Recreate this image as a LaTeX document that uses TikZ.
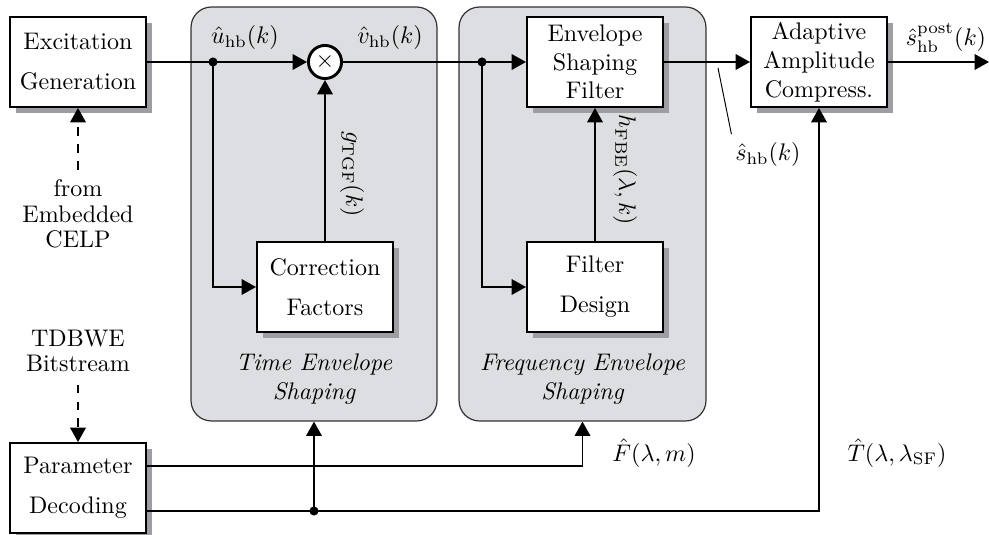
\documentclass[tikz,border=0pt]{standalone}
\usetikzlibrary{arrows.meta,shadows}
\definecolor{groupfill}{RGB}{221,222,225}
\definecolor{shadowgray}{RGB}{158,158,162}
\begin{document}
\begin{tikzpicture}[x=0.4167pt,y=-0.4167pt,
  line width=0.7pt,
  arr/.style={-{Triangle[length=6pt,width=6.5pt]}},
  blockbox/.style={draw,line width=0.8pt,fill=white,minimum width=56.7pt,minimum height=37.5pt,inner sep=1pt,align=center,
    drop shadow={shadow xshift=2.4pt,shadow yshift=-2.4pt,fill=shadowgray,opacity=1}},
  groupbox/.style={draw=black!80,line width=0.5pt,fill=groupfill,rounded corners=8.5pt,minimum width=102.5pt,minimum height=172.5pt},
  dot/.style={circle,fill=black,inner sep=0pt,minimum size=3.8pt},
  dasharr/.style={arr,dash pattern=on 3.6pt off 3.4pt},
  sidelbl/.style={align=center,inner sep=0pt,font=\fontsize{10}{10.5}\selectfont}]
\useasboundingbox (0,0) rectangle (989,535);

% groups
\node[groupbox] (tes) at (314,214) {};
\node[groupbox,minimum width=102.9pt] (fes) at (582.5,214) {};
\node[align=center,font=\itshape] (tesl) at (314,379) {Time Envelope\\Shaping};
\node[align=center,font=\itshape] (fesl) at (582.5,379) {Frequency Envelope\\Shaping};

% blocks
\node[blockbox] (exc) at (78,62) {Excitation\\[4.7pt]Generation};
\node[blockbox] (par) at (78,488) {Parameter\\[4.7pt]Decoding};
\node[blockbox] (corr) at (325,287) {Correction\\[4.7pt]Factors};
\node[blockbox] (esf) at (595,62) {Envelope\\Shaping\\Filter};
\node[blockbox] (fd) at (595,287) {Filter\\[4.7pt]Design};
\node[blockbox] (aac) at (819,62) {Adaptive\\Amplitude\\Compress.};
\node[draw,circle,line width=1.2pt,fill=white,minimum size=13.8pt,inner sep=0pt] (mult) at (325,62) {$\times$};

\node[sidelbl] (celp) at (78,214) {from\\Embedded\\CELP};
\node[sidelbl] (tdbwe) at (78,351) {TDBWE\\Bitstream};

% coordinates
\coordinate (d1) at (213,62);
\coordinate (d2) at (482,62);
\coordinate (d3) at (314,511);
\coordinate (out) at (989,62);
\coordinate (lead) at (718,68);

% connectors
\draw[arr] (exc.east) -- (mult.west);
\draw[arr] (d1) |- (corr.west);
\draw[arr] (corr.north) -- (mult.south);
\draw[arr] (mult.east) -- (esf.west);
\draw[arr] (d2) |- (fd.west);
\draw[arr] (fd.north) -- (esf.south);
\draw[arr] (esf.east) -- (aac.west);
\draw[arr] (aac.east) -- (out);
\draw[arr] ([yshift=9.2pt]par.east) -| (fes.south);
\draw ([yshift=-9.6pt]par.east) -- (d3);
\draw[arr] (d3) -| (aac.south);
\draw[arr] (d3) -- (tes.south);
\node[dot] (d1dot) at (d1) {};
\node[dot] (d2dot) at (d2) {};
\node[dot] (d3dot) at (d3) {};

\draw[dasharr,shorten <=4pt] (celp.north) -- (exc.south);
\draw[dasharr,shorten <=5pt] (tdbwe.south) -- (par.north);

% labels
\node (ul) at (245,38) {$\hat{u}_{\mathrm{hb}}(k)$};
\node (vl) at (390,38) {$\hat{v}_{\mathrm{hb}}(k)$};
\node[rotate=-90] (gl) at (352,174) {$g_{\mathrm{TGF}}(k)$};
\node[rotate=-90] (hl) at (625,170) {$h_{\mathrm{FBE}}(\lambda,k)$};
\node (sl) at (768,155) {$\hat{s}_{\mathrm{hb}}(k)$};
\draw[line width=0.4pt] (lead) -- ([xshift=2pt]sl.north west);
\node (postl) at (946,38) {$\hat{s}_{\mathrm{hb}}^{\mathrm{post}}(k)$};
\node (fl) at (654,453) {$\hat{F}(\lambda,m)$};
\node (tl) at (897,453) {$\hat{T}(\lambda,\lambda_{\mathrm{SF}})$};
\end{tikzpicture}
\end{document}
